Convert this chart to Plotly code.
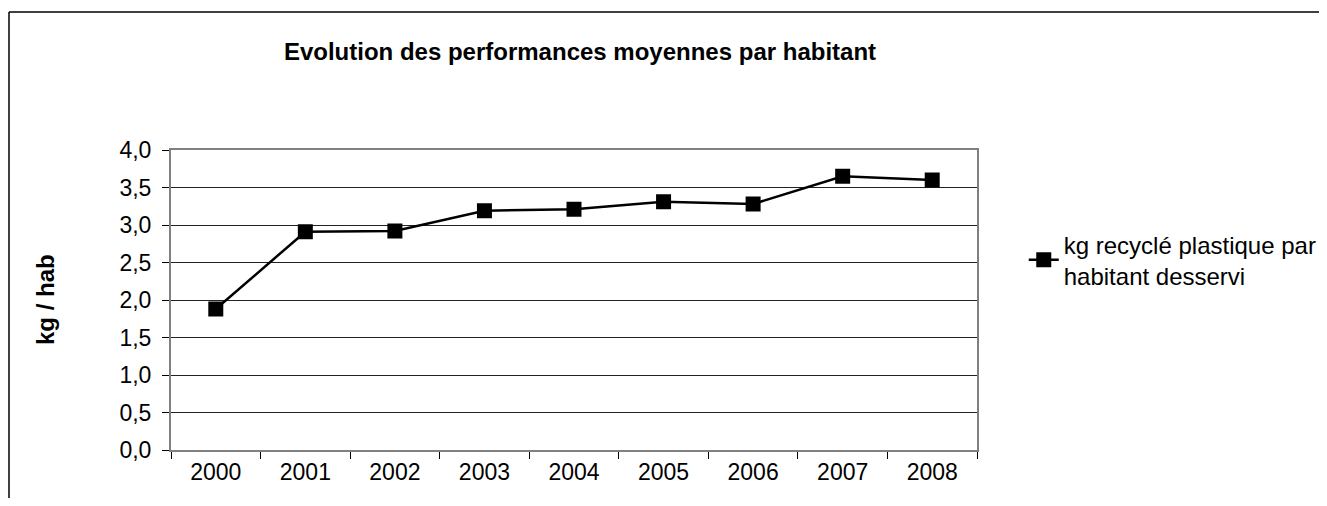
import plotly.graph_objects as go

# années et kg recyclé plastique par habitant desservi
years = ['2000', '2001', '2002', '2003', '2004', '2005', '2006', '2007', '2008']
kg_per_hab = [1.88, 2.91, 2.92, 3.19, 3.21, 3.31, 3.28, 3.65, 3.60]
y_ticks = [0, 0.5, 1, 1.5, 2, 2.5, 3, 3.5, 4]
y_tick_labels = ['0,0', '0,5', '1,0', '1,5', '2,0', '2,5', '3,0', '3,5', '4,0']

FONT = 'Liberation Sans, Arial, sans-serif'

fig = go.Figure()
fig.add_trace(go.Scatter(
    x=years,
    y=kg_per_hab,
    mode='lines+markers',
    name='kg recyclé plastique par<br>habitant desservi',
    line=dict(color='black', width=2.5),
    marker=dict(symbol='square', size=15, color='black'),
))

fig.update_layout(
    width=1311,
    height=490,
    margin=dict(l=163, r=342, t=142, b=48, autoexpand=False),
    paper_bgcolor='white',
    plot_bgcolor='white',
    font=dict(family=FONT, size=23, color='black'),
    showlegend=True,
    title=dict(
        text='<b>Evolution des performances moyennes par habitant</b>',
        font=dict(family=FONT, size=24, color='black'),
        x=(580 - 8) / 1311, xref='container', xanchor='center',
        y=1 - (52 - 8) / 490, yref='container', yanchor='middle',
    ),
    legend=dict(
        x=1.058, xanchor='left',
        y=0.633, yanchor='middle',
        font=dict(family=FONT, size=24, color='black'),
        bgcolor='rgba(0,0,0,0)',
    ),
)

fig.update_xaxes(
    type='category',
    range=[-0.5, 8.5],
    tickson='boundaries',
    ticks='outside',
    ticklen=7,
    tickcolor='black',
    showgrid=False,
    showline=True,
    linecolor='#808080',
    linewidth=2,
    mirror=True,
    tickfont=dict(size=23),
)

fig.update_yaxes(
    range=[0, 4],
    tickvals=y_ticks,
    ticktext=y_tick_labels,
    ticks='outside',
    ticklen=7,
    tickcolor='black',
    ticklabelstandoff=6,
    showgrid=True,
    gridcolor='#222222',
    gridwidth=1,
    zeroline=True,
    zerolinecolor='black',
    zerolinewidth=1,
    showline=True,
    linecolor='#808080',
    linewidth=2,
    mirror=True,
    tickfont=dict(size=23),
)

fig.add_annotation(
    text='<b>kg / hab</b>',
    textangle=-90,
    xref='paper', yref='paper',
    x=(45 - 171) / 806, y=0.5,
    xanchor='center', yanchor='middle',
    showarrow=False,
    font=dict(family=FONT, size=24, color='black'),
)

# cadre extérieur du graphique (coupé à droite et en bas) : bord gauche et bord haut
frame_left = (9 - 171) / 806
frame_top = (450 - 12) / 300
fig.add_shape(
    type='line', xref='paper', yref='paper',
    x0=frame_left, x1=frame_left, y0=-0.5, y1=frame_top,
    line=dict(color='black', width=1.5),
)
fig.add_shape(
    type='line', xref='paper', yref='paper',
    x0=frame_left, x1=1.6, y0=frame_top, y1=frame_top,
    line=dict(color='black', width=1.5),
)

fig.write_html('out.html')
